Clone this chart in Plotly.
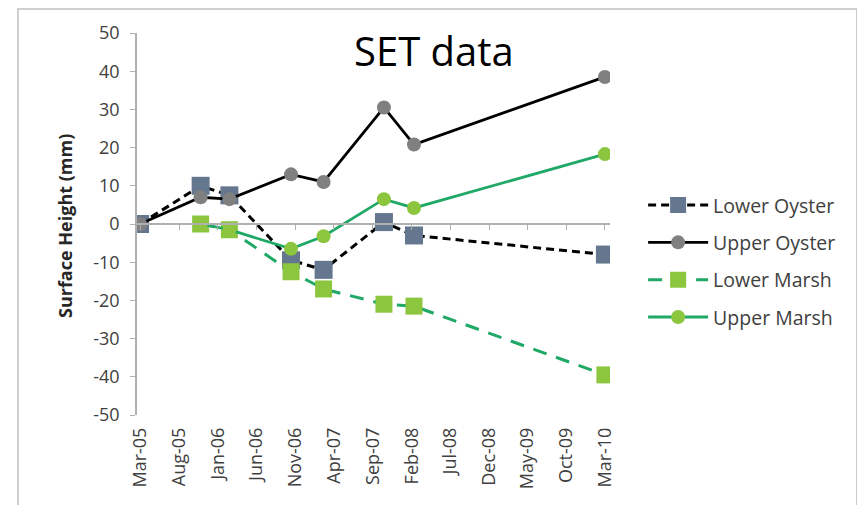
import plotly.graph_objects as go

# ---- data ----
oyster_dates = ["2005-03-01", "2005-10-25", "2006-02-15", "2006-10-15",
                "2007-02-20", "2007-10-15", "2008-02-10", "2010-03-01"]
marsh_dates = ["2005-10-25", "2006-02-15", "2006-10-15",
               "2007-02-20", "2007-10-15", "2008-02-10", "2010-03-01"]

lower_oyster = [0, 10, 7.5, -9.5, -12, 0.5, -3, -8]
upper_oyster = [0, 7, 6.5, 13, 11, 30.5, 20.8, 38.5]
lower_marsh = [0, -1.5, -12.5, -17, -21, -21.5, -39.5]
upper_marsh = [0, -1.5, -6.5, -3.2, 6.5, 4.2, 18.3]

tick_labels = ["Mar-05", "Aug-05", "Jan-06", "Jun-06", "Nov-06", "Apr-07", "Sep-07",
               "Feb-08", "Jul-08", "Dec-08", "May-09", "Oct-09", "Mar-10"]
tick_dates = ["2005-03-01", "2005-08-01", "2006-01-01", "2006-06-01", "2006-11-01",
              "2007-04-01", "2007-09-01", "2008-02-01", "2008-07-01", "2008-12-01",
              "2009-05-01", "2009-10-01", "2010-03-01"]
y_ticks = [50, 40, 30, 20, 10, 0, -10, -20, -30, -40, -50]
y_tick_text = [str(v) for v in y_ticks]

FONT = "Open Sans"
x_range = ["2005-02-17", "2010-03-21"]

fig = go.Figure()

fig.add_trace(go.Scatter(
    x=oyster_dates, y=lower_oyster, name="Lower Oyster", mode="lines+markers",
    line=dict(color="#000000", width=3, dash="8px,5px"),
    marker=dict(symbol="square", size=18, color="#64778f"),
    legendgroup="a"))
fig.add_trace(go.Scatter(
    x=oyster_dates, y=upper_oyster, name="Upper Oyster", mode="lines+markers",
    line=dict(color="#000000", width=2.8),
    marker=dict(symbol="circle", size=14, color="#808080"),
    legendgroup="b"))
fig.add_trace(go.Scatter(
    x=marsh_dates, y=lower_marsh, name="Lower Marsh", mode="lines+markers",
    line=dict(color="#1fa866", width=3, dash="14px,10px"),
    marker=dict(symbol="square", size=17, color="#8cc63f"),
    legendgroup="c"))
fig.add_trace(go.Scatter(
    x=marsh_dates, y=upper_marsh, name="Upper Marsh", mode="lines+markers",
    line=dict(color="#1fa866", width=2.8),
    marker=dict(symbol="circle", size=14, color="#8cc63f"),
    legendgroup="d"))

# invisible trace so the zero-crossing axis is drawn
fig.add_trace(go.Scatter(x=[tick_dates[0]], y=[None], xaxis="x2", showlegend=False,
                         hoverinfo="skip", mode="lines"))

fig.update_layout(
    width=865, height=505,
    margin=dict(l=129, r=263, t=25, b=98),
    paper_bgcolor="white", plot_bgcolor="white",
    font=dict(family=FONT, color="#404040"),
    showlegend=True,
    legend=dict(x=1.07, y=0.6, xanchor="left", yanchor="top",
                font=dict(size=19.5, color="#404040", family=FONT),
                itemwidth=60,
                traceorder="grouped", tracegroupgap=9,
                bgcolor="rgba(0,0,0,0)"),
    xaxis=dict(type="date", range=x_range, tickvals=tick_dates, ticktext=tick_labels,
               tickangle=-90, showgrid=False, showline=False, zeroline=False,
               ticks="", automargin=False, ticklabelstandoff=8,
               tickfont=dict(size=18, color="#404040", family=FONT)),
    xaxis2=dict(type="date", range=x_range, overlaying="x", anchor="free", position=0.5,
                tickvals=tick_dates, showticklabels=False, showgrid=False,
                showline=True, linecolor="#b0b0b0", linewidth=1.5,
                ticks="outside", ticklen=5, tickcolor="#b0b0b0", zeroline=False),
    yaxis=dict(range=[-50, 50], tickvals=y_ticks, ticktext=y_tick_text,
               showgrid=False, zeroline=False,
               showline=True, linecolor="#b0b0b0", linewidth=1.5, automargin=False,
               ticks="outside", ticklen=5, tickcolor="#b0b0b0", ticklabelstandoff=7,
               tickfont=dict(size=18, color="#404040", family=FONT)),
)

fig.add_annotation(text="SET data", xref="paper", yref="paper", x=0.628, y=0.953,
                   showarrow=False, xanchor="center", yanchor="middle",
                   font=dict(size=40, color="#000000", family=FONT))
fig.add_annotation(text="<b>Surface Height (mm)</b>", xref="paper", yref="paper",
                   x=-0.152, y=0.495, textangle=-90, showarrow=False,
                   xanchor="center", yanchor="middle",
                   font=dict(size=18, color="#262626", family=FONT))

fig.add_shape(type="rect", xref="paper", yref="paper", x0=-0.2516, x1=1.522,
              y0=-0.4, y1=1.063, line=dict(color="#c0c0c0", width=1.5),
              fillcolor="rgba(0,0,0,0)", layer="below")

fig.write_html("out.html")
